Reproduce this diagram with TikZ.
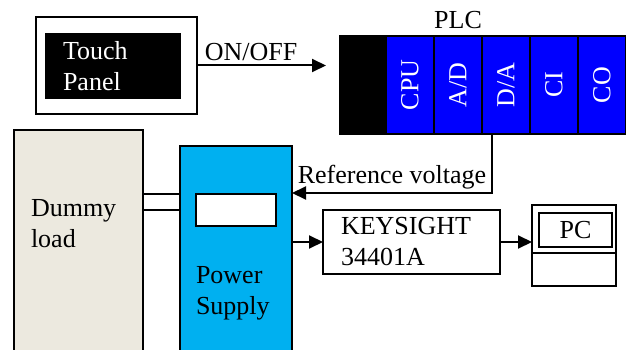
\documentclass[tikz,border=0pt]{standalone}
\usepackage{fontspec}
\setmainfont{Liberation Serif}
\usetikzlibrary{arrows.meta,positioning,calc}
\definecolor{plcblue}{RGB}{0,0,255}
\definecolor{psucyan}{RGB}{0,176,240}
\definecolor{loadbeige}{RGB}{236,233,223}

\begin{document}
\begin{tikzpicture}[x=1pt,y=-1pt,
  font=\fontsize{26}{31}\selectfont,
  every node/.style={inner sep=0pt,outer sep=0pt},
  box/.style={draw,line width=2pt,anchor=north west},
  arr/.style={-{Triangle[length=14pt,width=13pt]},line width=2pt}]
\useasboundingbox (0,0) rectangle (626,350);
% touch panel
\node[box,minimum width=161pt,minimum height=97pt] (touchframe) at (36,17) {};
\node[anchor=north west,fill=black,text=white,minimum width=136pt,minimum height=66pt,text width=100pt,inner xsep=18pt,align=left] (touch) at (45,33) {Touch\\Panel};
\coordinate (onoff) at (326,65.5);
\draw[arr] (touchframe.east) -- (onoff) node[pos=0.42,above=5pt] {ON/OFF};
% plc
\node[anchor=north west,fill=black,minimum width=48pt,minimum height=100pt] (plcbase) at (339,35) {};
\foreach \t [count=\i] in {CPU,A/D,D/A,CI,CO} {
  \node[box,fill=plcblue,minimum width=48pt,minimum height=98pt] (cell\i) at ({386+48*(\i-1)},36) {};
  \node[rotate=90,text=white] at (cell\i) {\t};
}
\node[above=7pt of cell2.north] (plclabel) {PLC};
% power supply and load
\node[box,fill=loadbeige,minimum width=129pt,minimum height=230pt] (dummy) at (14,130) {};
\node[anchor=north west,align=left] (dummytext) at (31,199) {Dummy\\load};
\node[box,fill=psucyan,minimum width=112pt,minimum height=214pt] (psu) at (180,146) {};
\node[box,fill=white,minimum width=80pt,minimum height=32pt] (psuwin) at (196,194) {};
\node[anchor=north west,align=left] (psutext) at (196,266) {Power\\Supply};
\draw[line width=2pt] (dummy.east |- psuwin.north) -- (psu.west |- psuwin.north);
\draw[line width=2pt] (dummy.east |- psuwin.center) -- (psu.west |- psuwin.center);
\coordinate (daout) at ([xshift=10pt]cell3.south west);
\draw[arr] (daout) |- ([yshift=-47pt]psu.north east) node[pos=0.75,above=4pt] {Reference voltage};
% meter and pc
\node[box,minimum width=177pt,minimum height=64pt,text width=141pt,inner xsep=18pt,align=left] (keysight) at (323,210) {KEYSIGHT\\34401A};
\draw[arr] (psu.east |- keysight.west) -- (keysight.west);
\node[box,minimum width=84pt,minimum height=81pt] (pc) at (532,205) {};
\node[box,line width=1.5pt,minimum width=73pt,minimum height=34pt] (pcscreen) at (539,213) {PC};
\draw[line width=2pt] ([yshift=-48pt]pc.north west) -- ([yshift=-48pt]pc.north east);
\draw[arr] (keysight.east) -- (keysight.east -| pc.west);
\end{tikzpicture}
\end{document}
